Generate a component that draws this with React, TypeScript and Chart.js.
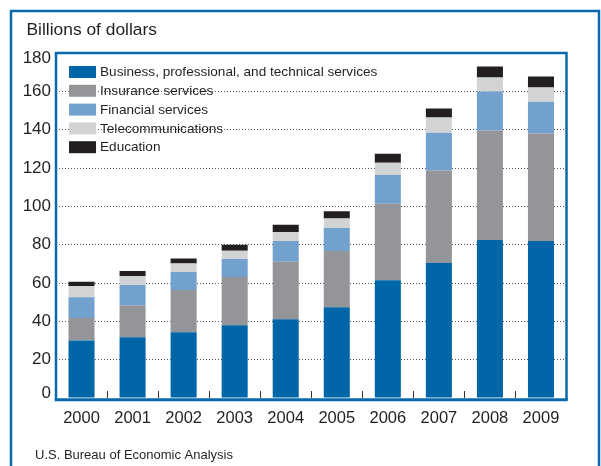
import React, { useEffect, useRef } from "react";
import { Chart, registerables } from "chart.js";

Chart.register(...registerables);

const years = ["2000", "2001", "2002", "2003", "2004", "2005", "2006", "2007", "2008", "2009"];
const seriesNames = [
  "Business, professional, and technical services",
  "Insurance services",
  "Financial services",
  "Telecommunications",
  "Education",
];
const business = [30.0, 31.7, 34.3, 37.9, 41.1, 47.4, 61.5, 70.4, 82.4, 81.9];
const insurance = [11.8, 16.5, 22.0, 25.2, 30.0, 29.3, 39.8, 48.3, 57.2, 56.1];
const financial = [10.8, 10.7, 9.4, 9.4, 10.8, 12.0, 15.1, 19.7, 20.3, 16.6];
const telecom = [5.7, 4.8, 4.5, 4.3, 4.7, 4.9, 6.3, 7.9, 7.3, 7.4];
const education = [2.3, 2.5, 2.6, 3.2, 3.8, 3.8, 4.7, 4.7, 5.7, 5.7];
const colors = ["#0066a8", "#939598", "#72a1cd", "#d1d3d4", "#231f20"];
const yMax = 180;
const yStep = 20;
const unitLabel = "Billions of dollars";
const sourceText = "U.S. Bureau of Economic Analysis";

const FONT = "'Liberation Sans', Arial, Helvetica, sans-serif";
const TEXT = "#231f20";
const FRAME = "#0a68ad";

const decorPlugin = {
  id: "decor",
  beforeDraw(chart: any) {
    const ctx = chart.ctx;
    ctx.save();
    ctx.fillStyle = "#ffffff";
    ctx.fillRect(0, 0, chart.width, chart.height);
    // outer frame
    ctx.strokeStyle = FRAME;
    ctx.lineWidth = 2.5;
    ctx.beginPath();
    ctx.moveTo(11, chart.height + 5);
    ctx.lineTo(11, 11);
    ctx.lineTo(599, 11);
    ctx.lineTo(599, chart.height + 5);
    ctx.stroke();
    // unit label
    ctx.fillStyle = TEXT;
    ctx.font = `17.4px ${FONT}`;
    ctx.textBaseline = "alphabetic";
    ctx.textAlign = "left";
    ctx.fillText(unitLabel, 26.5, 35);
    // source
    ctx.font = `13px ${FONT}`;
    ctx.fillText(sourceText, 35, 459);
    ctx.restore();
  },
  afterDatasetsDraw(chart: any) {
    const ctx = chart.ctx;
    const area = chart.chartArea;
    const xs = chart.scales.x;
    const ys = chart.scales.y;
    ctx.save();
    // y labels (kept inside the frame vertically)
    ctx.fillStyle = TEXT;
    ctx.font = `17px ${FONT}`;
    ctx.textAlign = "right";
    ctx.textBaseline = "middle";
    ys.ticks.forEach((t: any) => {
      let y = ys.getPixelForValue(t.value);
      y = Math.min(Math.max(y, area.top + 5), area.bottom - 4.5);
      ctx.fillText(String(t.value), area.left - 5, y);
    });
    // tick marks between categories
    ctx.strokeStyle = "#333333";
    ctx.lineWidth = 1;
    const n = chart.data.labels.length;
    for (let i = 0; i < n - 1; i++) {
      const a = xs.getPixelForValue(i);
      const b = xs.getPixelForValue(i + 1);
      const x = Math.round((a + b) / 2) + 0.5;
      ctx.beginPath();
      ctx.moveTo(x, area.bottom - 7);
      ctx.lineTo(x, area.bottom);
      ctx.stroke();
    }
    // plot frame
    ctx.strokeStyle = FRAME;
    ctx.lineWidth = 2.5;
    ctx.beginPath();
    ctx.moveTo(area.left, area.bottom + 2);
    ctx.lineTo(area.left, area.top);
    ctx.lineTo(area.right, area.top);
    ctx.lineTo(area.right, area.bottom + 2);
    ctx.stroke();
    ctx.lineWidth = 3;
    ctx.beginPath();
    ctx.moveTo(area.left - 1.2, area.bottom + 1.8);
    ctx.lineTo(area.right + 1.2, area.bottom + 1.8);
    ctx.stroke();
    // legend
    ctx.font = `13.6px ${FONT}`;
    ctx.textBaseline = "middle";
    ctx.textAlign = "left";
    chart.data.datasets.forEach((ds: any, i: number) => {
      const cy = 72 + i * 18.8;
      ctx.fillStyle = ds.backgroundColor;
      ctx.fillRect(69, cy - 6, 27, 12);
      ctx.fillStyle = TEXT;
      ctx.fillText(ds.label, 100, cy + 0.5);
    });
    ctx.restore();
  },
};

export default function App() {
  const ref = useRef<HTMLCanvasElement | null>(null);
  useEffect(() => {
    if (!ref.current) return;
    const seriesData = [business, insurance, financial, telecom, education];
    const chart = new Chart(ref.current, {
      type: "bar",
      data: {
        labels: years,
        datasets: seriesData.map((d, i) => ({
          label: seriesNames[i],
          data: d,
          backgroundColor: colors[i],
          borderWidth: 0,
          barPercentage: 0.51,
          categoryPercentage: 1.0,
        })),
      },
      options: {
        responsive: false,
        animation: false,
        devicePixelRatio: 1,
        layout: { padding: { left: 0, top: 53, right: 34.5, bottom: 38 } },
        plugins: { legend: { display: false }, tooltip: { enabled: false } },
        scales: {
          x: {
            stacked: true,
            grid: { display: false, drawTicks: false },
            border: { display: false },
            ticks: { color: TEXT, font: { family: FONT, size: 16.5 }, padding: 11, maxRotation: 0 },
            afterFit: (s: any) => {
              s.height = 30;
            },
          },
          y: {
            stacked: true,
            min: 0,
            max: yMax,
            grid: {
              drawTicks: false,
              color: (c: any) => (c.tick && (c.tick.value === 0 || c.tick.value === yMax) ? "rgba(0,0,0,0)" : "#555555"),
              lineWidth: 1,
            },
            border: { display: false, dash: [1, 2] },
            ticks: { stepSize: yStep, display: false },
            afterFit: (s: any) => {
              s.width = 56;
            },
          },
        },
      },
      plugins: [decorPlugin],
    } as any);
    return () => chart.destroy();
  }, []);
  return (
    <div style={{ position: "absolute", left: 0, top: 0, width: 601, height: 466, overflow: "hidden", background: "#fff" }}>
      <canvas ref={ref} width={601} height={466} style={{ display: "block" }} />
    </div>
  );
}
